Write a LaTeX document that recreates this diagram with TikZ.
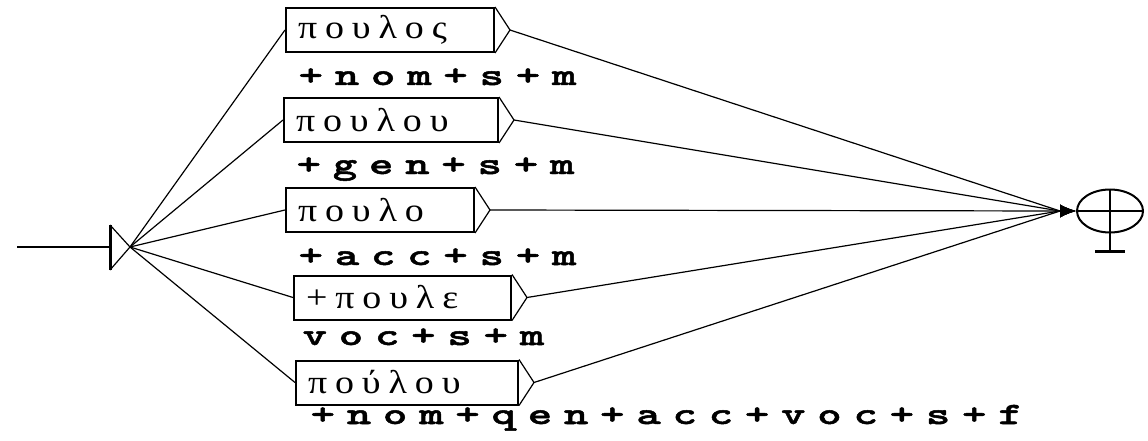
\documentclass[tikz,border=0pt]{standalone}
\usepackage{fontspec}
\usepackage{tikz}
\usetikzlibrary{arrows, arrows.meta, positioning, shapes.geometric}
\newfontfamily\boxfont[FakeStretch=1.15, LetterSpace=24]{Liberation Serif}
\newfontfamily\tagfont[FakeStretch=1.5, LetterSpace=38, FakeBold=1.6]{lmmonolt10-bold.otf}

\begin{document}
\begin{tikzpicture}[
            x = 1pt, y = -1pt,
            > = {Latex[length=16pt, width=13pt]},
            line width = 1.2pt
        ]
        \tikzstyle{every box}=[
            draw = black,
            line width = 2pt,
            minimum height = 44pt,
            inner xsep = 12pt,
            anchor = west,
            align = left,
            font = \boxfont\fontsize{33}{33}\selectfont
        ]
        \tikzstyle{tag}=[
            anchor = base west,
            inner sep = 0pt,
            font = \tagfont\fontsize{31}{31}\selectfont
        ]
        \useasboundingbox (0,0) rectangle (1148,441);

        % initial state
        \coordinate (start) at (17,247);
        \coordinate (init) at (130,247);
        \draw[line width=3pt] (110,225) -- (110,270);
        \draw (110,225) -- (init) -- (110,270);
        \draw[line width=2pt] (start) -- (110,247);

        % boxes
        \node[every box, text width=184pt] (b1) at (285,30) {πουλος};
        \node[every box, text width=190pt] (b2) at (283,120) {πουλου};
        \node[every box, text width=164pt] (b3) at (285,210) {πουλο};
        \node[every box, text width=193pt] (b4) at (293,297.5) {+πουλε};
        \node[every box, text width=198pt] (b5) at (295,382.5) {πούλου};

        \node[tag] (l1) at (298,85) {+nom+s+m};
        \node[tag] (l2) at (296,174) {+gen+s+m};
        \node[tag] (l3) at (298,265) {+acc+s+m};
        \node[tag] (l4) at (302,345) {voc+s+m};
        \node[tag] (l5) at (310,424) {+nom+qen+acc+voc+s+f};

        % final state
        \node[draw, ellipse, line width=2pt, minimum width=66pt,
            minimum height=43pt, inner sep=0pt] (fin) at (1110,211) {};
        \draw[line width=2pt] (fin.west) -- (fin.east);
        \draw[line width=2.5pt] (fin.north) -- ++(0,63) coordinate (foot);
        \draw[line width=2.5pt] ([xshift=-15pt]foot) -- ([xshift=15pt]foot);
        \coordinate[left=16pt of fin.west] (arr);

        \foreach \i in {1,...,5} {
            \coordinate[right=15pt of b\i] (t\i);
            \draw (b\i.north east) -- (t\i) -- (b\i.south east);
            \path (init) edge (b\i.west);
            \draw[->] (t\i) -- (arr) -- (fin.west);
        }
\end{tikzpicture}
\end{document}
